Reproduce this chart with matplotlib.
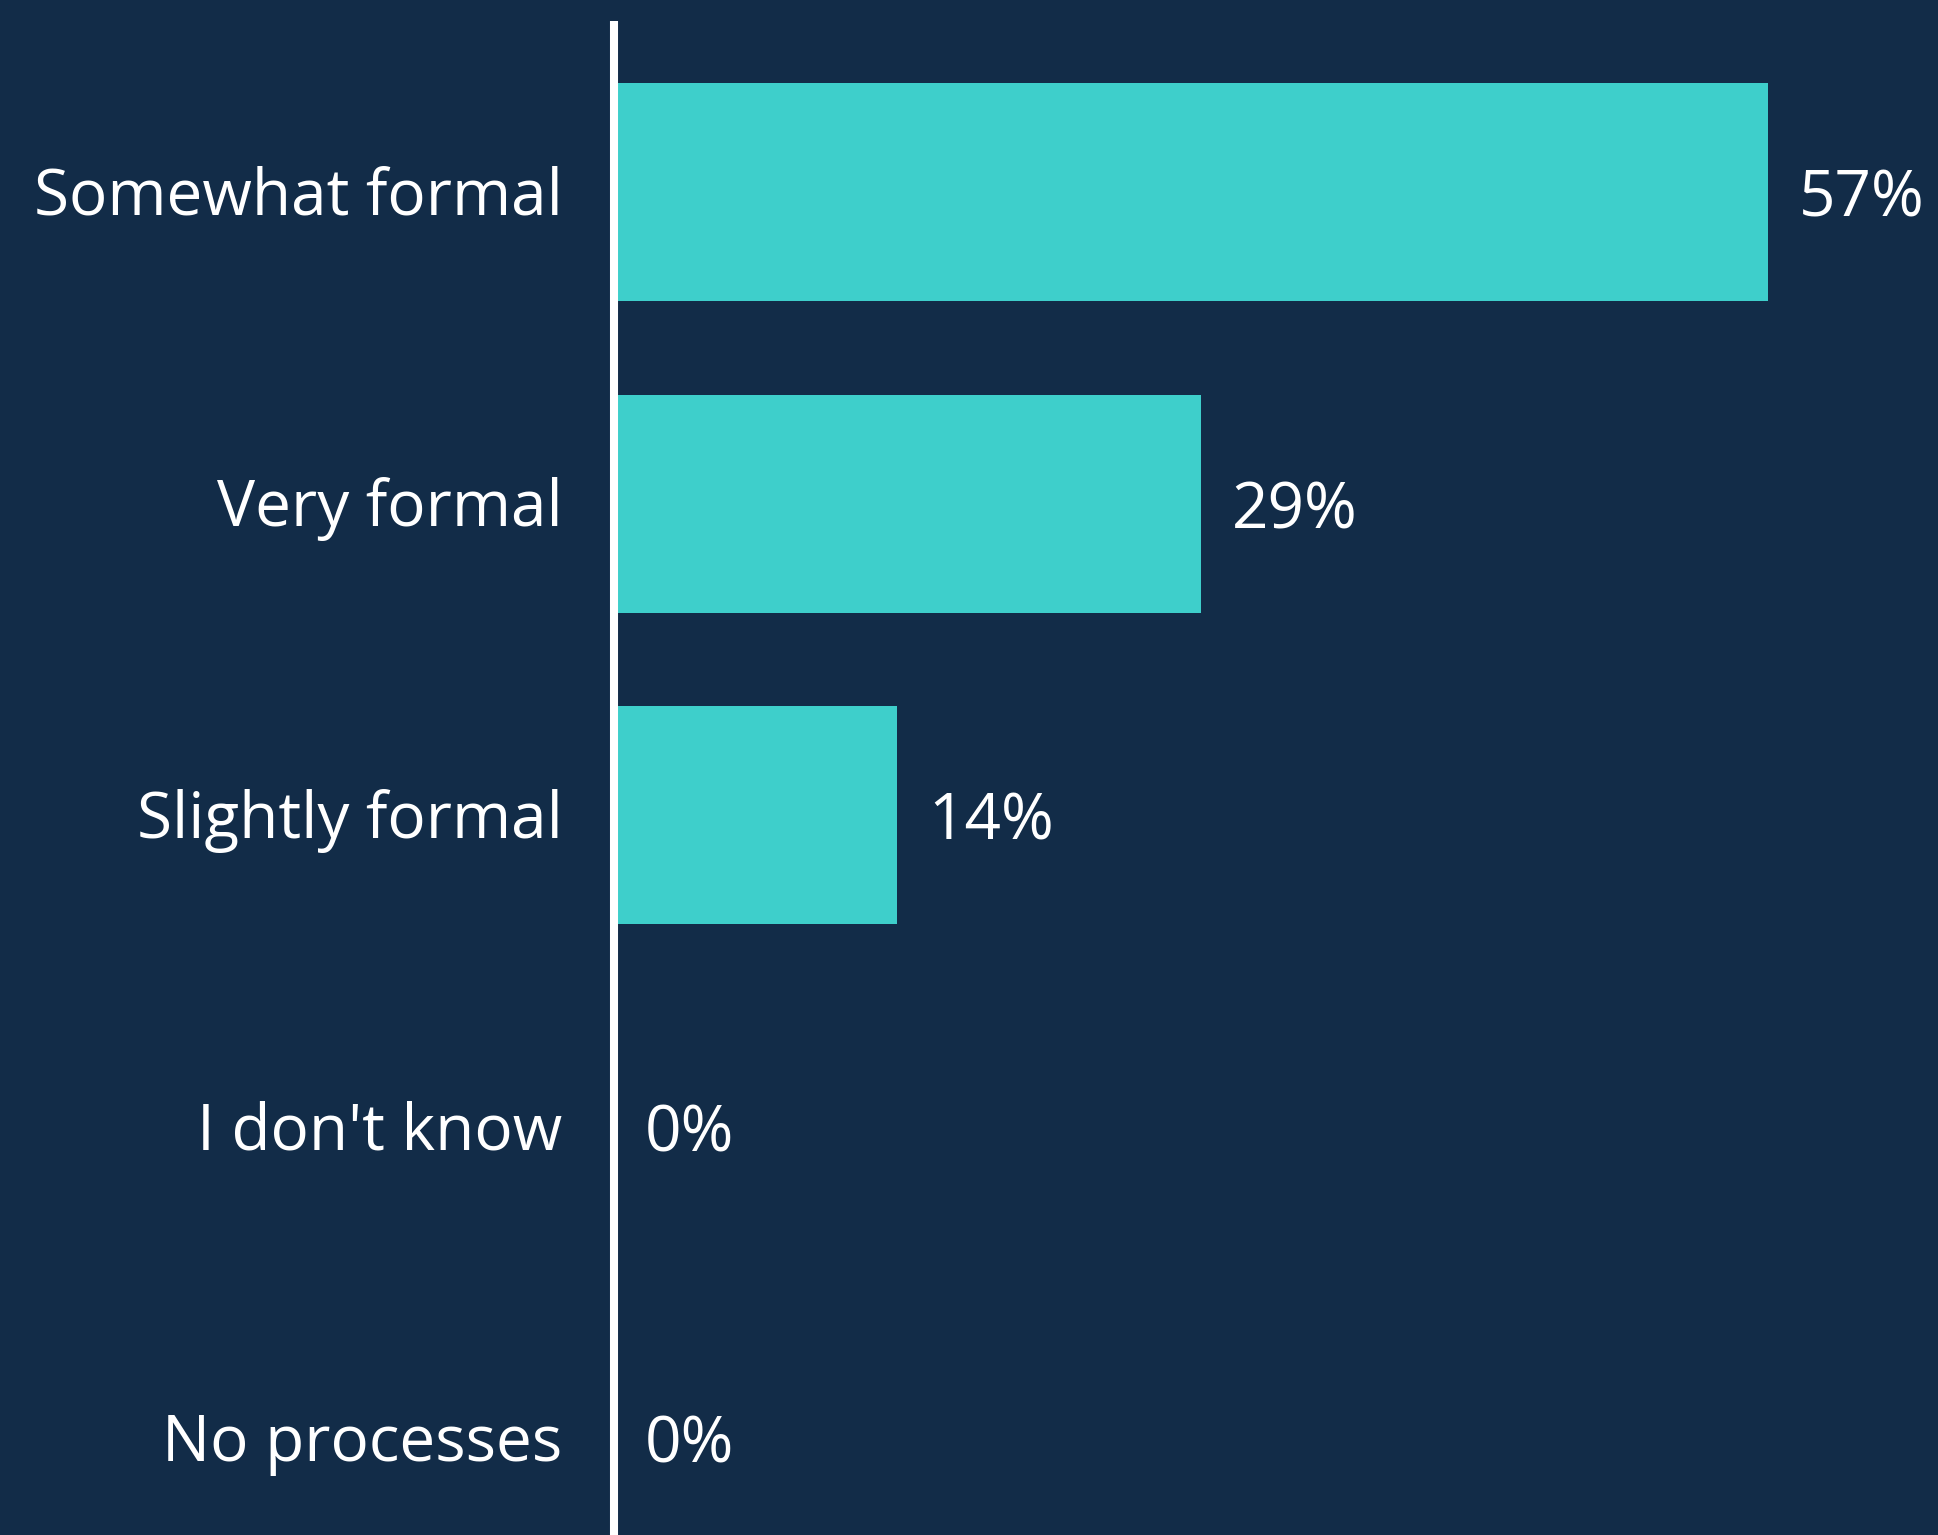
import matplotlib

matplotlib.use("Agg")
import matplotlib.pyplot as plt
from matplotlib.transforms import ScaledTranslation

# Survey answers, top to bottom
categories = ["Somewhat formal", "Very formal", "Slightly formal", "I don't know", "No processes"]
shares = [57, 29, 14, 0, 0]
value_labels = ["57%", "29%", "14%", "0%", "0%"]

BG = "#122C48"
BAR = "#3ECFCB"
TEXT = "white"

plt.rcParams["font.family"] = ["Open Sans", "DejaVu Sans"]

W, H, DPI = 1938, 1535, 100
fig = plt.figure(figsize=(W / DPI, H / DPI), dpi=DPI, facecolor=BG)

# axes from the white baseline to the right edge, top at y=21px
left = 614 / W
ax = fig.add_axes([left, 0, 1 - left, (H - 21) / H])
ax.set_facecolor(BG)

ypos = list(range(len(categories)))
ax.barh(ypos, shares, height=0.70, color=BAR, zorder=1)

ax.set_xlim(0, 65.4)
ax.set_ylim(4.31, -0.55)

ax.set_yticks(ypos)
ax.set_yticklabels(categories, fontsize=46, color=TEXT)
ax.tick_params(axis="y", length=0, pad=37)
ax.set_xticks([])

# nudge category labels up a little
nudge = ScaledTranslation(0, 1.5 / 72, fig.dpi_scale_trans)
for lab in ax.get_yticklabels():
    lab.set_transform(lab.get_transform() + nudge)

for side in ("top", "right", "bottom"):
    ax.spines[side].set_visible(False)
ax.spines["left"].set_color("white")
ax.spines["left"].set_linewidth(5.8)
ax.spines["left"].set_capstyle("butt")
ax.spines["left"].set_zorder(3)

for y, v, lab in zip(ypos, shares, value_labels):
    ax.annotate(lab, xy=(v, y), xytext=(22, 0), textcoords="offset points",
                va="center_baseline", ha="left", fontsize=46, color=TEXT)

fig.savefig("out.png", dpi=DPI, facecolor=BG)
plt.close(fig)
